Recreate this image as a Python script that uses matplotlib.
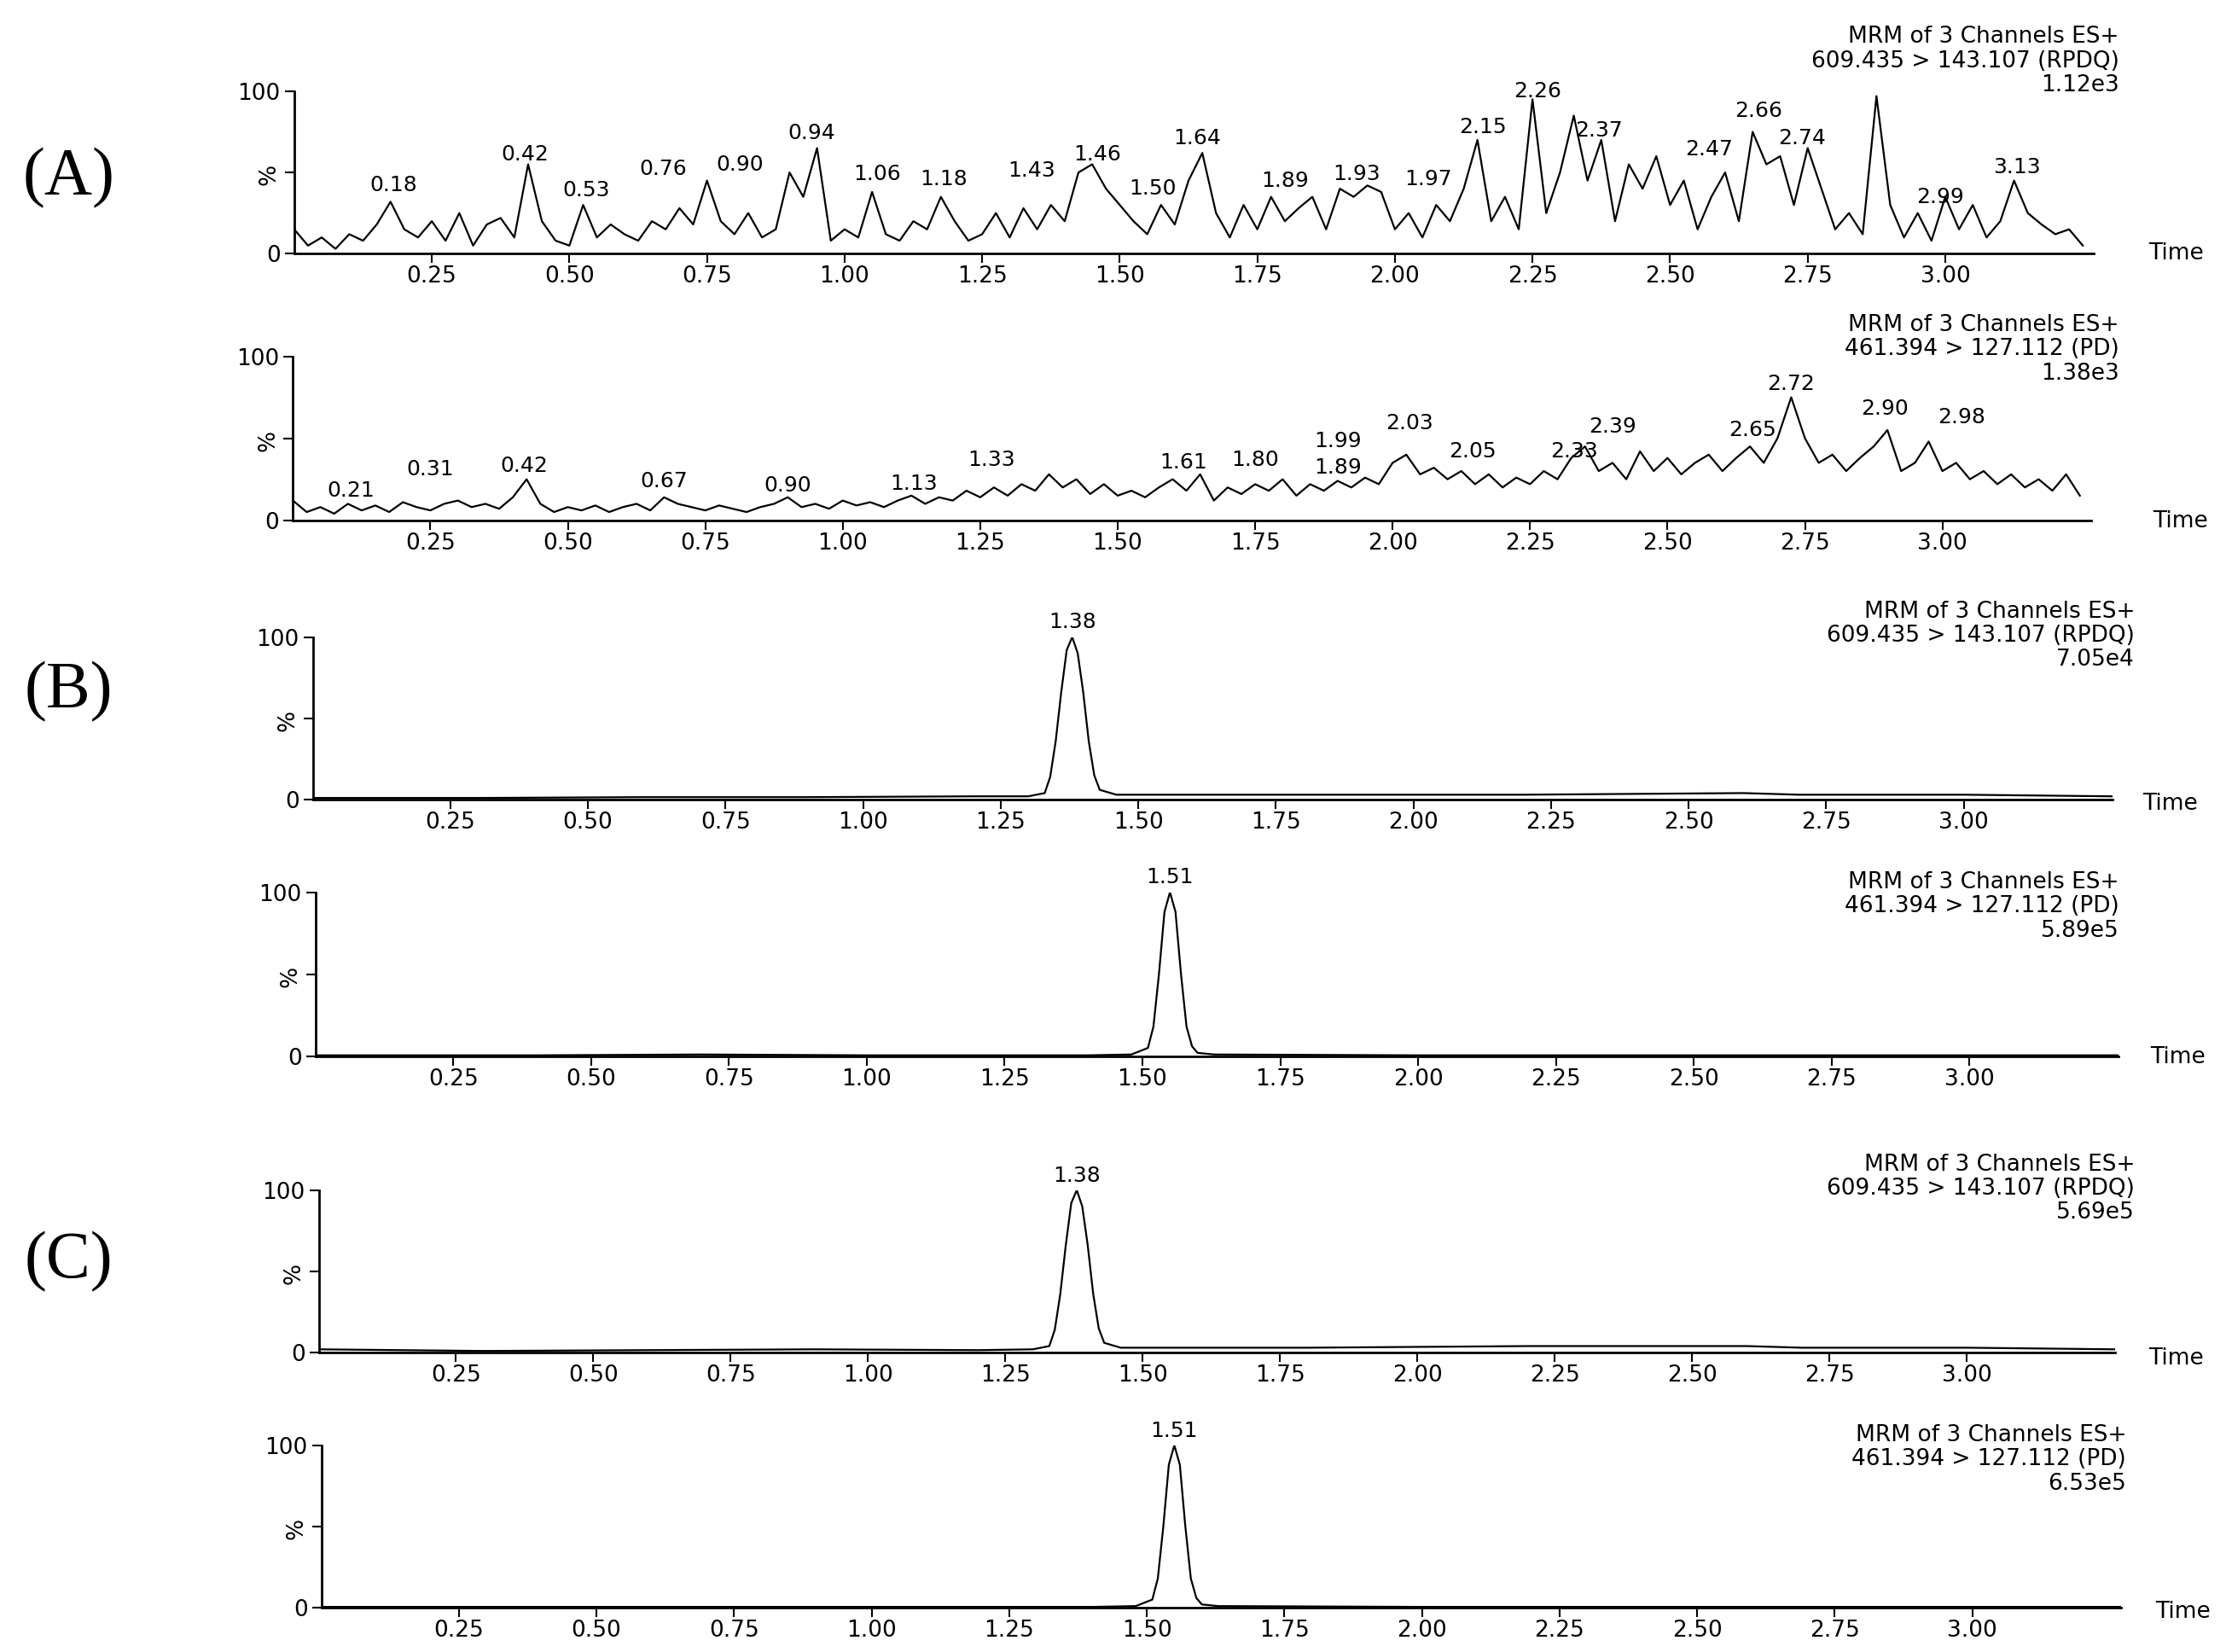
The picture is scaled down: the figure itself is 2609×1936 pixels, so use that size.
import numpy as np
import matplotlib.pyplot as plt

plt.rcParams['font.family'] = ['DejaVu Sans']

STEP = 0.025
# (A) blank: noise traces, % intensity every 0.025 min
a1_vals = [15, 5, 10, 3, 12, 8, 18, 32, 15, 10, 20, 8, 25, 5, 18, 22, 10, 55, 20, 8,
           5, 30, 10, 18, 12, 8, 20, 15, 28, 18, 45, 20, 12, 25, 10, 15, 50, 35, 65, 8,
           15, 10, 38, 12, 8, 20, 15, 35, 20, 8, 12, 25, 10, 28, 15, 30, 20, 50, 55, 40,
           30, 20, 12, 30, 18, 45, 62, 25, 10, 30, 15, 35, 20, 28, 35, 15, 40, 35, 42, 38,
           15, 25, 10, 30, 20, 40, 70, 20, 35, 15, 95, 25, 50, 85, 45, 70, 20, 55, 40, 60,
           30, 45, 15, 35, 50, 20, 75, 55, 60, 30, 65, 40, 15, 25, 12, 97, 30, 10, 25, 8,
           35, 15, 30, 10, 20, 45, 25, 18, 12, 15, 5]
a2_vals = [12, 5, 8, 4, 10, 6, 9, 5, 11, 8, 6, 10, 12, 8, 10, 7, 14, 25, 10, 5,
           8, 6, 9, 5, 8, 10, 6, 14, 10, 8, 6, 9, 7, 5, 8, 10, 14, 8, 10, 7,
           12, 9, 11, 8, 12, 15, 10, 14, 12, 18, 14, 20, 15, 22, 18, 28, 20, 25, 16, 22,
           15, 18, 14, 20, 25, 18, 28, 12, 20, 16, 22, 18, 25, 15, 22, 18, 24, 20, 26, 22,
           35, 40, 28, 32, 25, 30, 22, 28, 20, 26, 22, 30, 25, 38, 45, 30, 35, 25, 42, 30,
           38, 28, 35, 40, 30, 38, 45, 35, 50, 75, 50, 35, 40, 30, 38, 45, 55, 30, 35, 48,
           30, 35, 25, 30, 22, 28, 20, 25, 18, 28, 15]

# peak traces (time, %)
rpdq_t = [0.0, 0.3, 0.6, 0.9, 1.2, 1.30, 1.33, 1.34, 1.35, 1.36, 1.37, 1.38, 1.39, 1.40,
          1.41, 1.42, 1.43, 1.46, 1.8, 2.2, 2.6, 2.7, 3.0, 3.27]
b1_y = [1, 1, 1.5, 1.5, 2, 2, 4, 14, 36, 66, 92, 100, 90, 66, 36, 15, 6, 3, 3, 3, 4, 3, 3, 2]
c1_y = [2, 1, 1.5, 2, 1.5, 2, 4, 14, 36, 66, 92, 100, 90, 66, 36, 15, 6, 3, 3, 4, 4, 3, 3, 2]
pd_t = [0.0, 0.4, 0.7, 1.0, 1.4, 1.48, 1.51, 1.52, 1.53, 1.54, 1.55, 1.56, 1.57, 1.58,
        1.59, 1.60, 1.63, 2.0, 3.27]
b2_y = [0.5, 0.5, 1, 0.5, 0.5, 1, 5, 18, 50, 88, 100, 88, 50, 18, 6, 2, 1, 0.5, 0.5]
c2_y = [0.5, 0.5, 0.5, 0.5, 0.5, 1, 5, 18, 50, 88, 100, 88, 50, 18, 6, 2, 1, 0.5, 0.5]

# labels: (text, x, y-centre)
a1_labels = [("0.18", 0.18, 42), ("0.42", 0.42, 61), ("0.53", 0.53, 39), ("0.76", 0.67, 52),
             ("0.90", 0.81, 55), ("0.94", 0.94, 74), ("1.06", 1.06, 49), ("1.18", 1.18, 46),
             ("1.43", 1.34, 51), ("1.46", 1.46, 61), ("1.50", 1.56, 40), ("1.64", 1.64, 71),
             ("1.89", 1.80, 45), ("1.93", 1.93, 49), ("1.97", 2.06, 46), ("2.15", 2.16, 78),
             ("2.26", 2.26, 100), ("2.37", 2.37, 76), ("2.47", 2.57, 64), ("2.66", 2.66, 88),
             ("2.74", 2.74, 71), ("2.99", 2.99, 35), ("3.13", 3.13, 53)]
a2_labels = [("0.21", 0.105, 18), ("0.31", 0.25, 31), ("0.42", 0.42, 33), ("0.67", 0.675, 24),
             ("0.90", 0.90, 21), ("1.13", 1.13, 22), ("1.33", 1.27, 37), ("1.61", 1.62, 35),
             ("1.80", 1.75, 37), ("1.89", 1.90, 32), ("1.99", 1.90, 48), ("2.03", 2.03, 59),
             ("2.05", 2.145, 42), ("2.33", 2.33, 42), ("2.39", 2.40, 57), ("2.65", 2.655, 55),
             ("2.72", 2.725, 83), ("2.90", 2.895, 68), ("2.98", 3.035, 63)]

HDR_RPDQ = "609.435 > 143.107 (RPDQ)"
HDR_PD = "461.394 > 127.112 (PD)"
xticks = [0.25, 0.50, 0.75, 1.00, 1.25, 1.50, 1.75, 2.00, 2.25, 2.50, 2.75, 3.00]

W, H = 2609, 1936
S = 2609 / 1562

# panel geometry in reference display pixels:
# x(0.25), x(3.00), y(100), y(0), header right, header top, Time x, Time y
panels = [
    (np.arange(len(a1_vals)) * STEP, a1_vals, a1_labels, HDR_RPDQ, "1.12e3",
     303, 1365, 64, 178, 1487, 16, 1527, 178),
    (np.arange(len(a2_vals)) * STEP, a2_vals, a2_labels, HDR_PD, "1.38e3",
     302, 1363, 250, 365, 1487, 218, 1530, 366),
    (rpdq_t, b1_y, [("1.38", 1.38, 109)], HDR_RPDQ, "7.05e4",
     316, 1378, 447, 561, 1498, 419, 1523, 564),
    (pd_t, b2_y, [("1.51", 1.55, 109)], HDR_PD, "5.89e5",
     318, 1382, 626, 741, 1487, 609, 1528, 742),
    (rpdq_t, c1_y, [("1.38", 1.38, 109)], HDR_RPDQ, "5.69e5",
     320, 1380, 835, 949, 1498, 807, 1527, 953),
    (pd_t, c2_y, [("1.51", 1.55, 109)], HDR_PD, "6.53e5",
     322, 1384, 1014, 1128, 1492, 997, 1532, 1131),
]

fig = plt.figure(figsize=(W / 100, H / 100), dpi=100)

for (t, y, labels, hdr, scale, x025, x300, y100, y0, hr, ht, tx, ty) in panels:
    pu = (x300 - x025) / 2.75
    left = x025 - 0.25 * pu
    width = 3.27 * pu
    ax = fig.add_axes([left * S / W, 1 - y0 * S / H, width * S / W, (y0 - y100) * S / H])
    ax.plot(t, y, color='black', lw=1.6)
    ax.set_xlim(0, 3.27)
    ax.set_ylim(0, 100)
    for s in ('top', 'right'):
        ax.spines[s].set_visible(False)
    for s in ('left', 'bottom'):
        ax.spines[s].set_linewidth(2)
    ax.set_xticks(xticks)
    ax.set_xticklabels([f"{v:.2f}" for v in xticks])
    ax.set_yticks([0, 50, 100])
    ax.set_yticklabels(["0", "%", "100"])
    ax.get_yticklabels()[1].set_rotation(90)
    ax.tick_params(axis='both', labelsize=19, width=1.5, length=8, direction='out')
    ax.tick_params(axis='x', pad=2)
    for txt, lx, ly in labels:
        ax.text(lx, ly, txt, ha='center', va='center', fontsize=18, clip_on=False)
    hx = hr * S / W
    for i, line in enumerate(["MRM of 3 Channels ES+", hdr, scale]):
        fig.text(hx, 1 - (ht + 10 + i * 17) * S / H, line, ha='right', va='center', fontsize=19)
    fig.text(tx * S / W, 1 - ty * S / H, "Time", ha='center', va='center', fontsize=19)

for lab, py in [("(A)", 125), ("(B)", 485), ("(C)", 885)]:
    fig.text(48 * S / W, 1 - py * S / H, lab, ha='center', va='center',
             fontsize=56, family='Liberation Serif')

fig.savefig("out.png", dpi=100)
